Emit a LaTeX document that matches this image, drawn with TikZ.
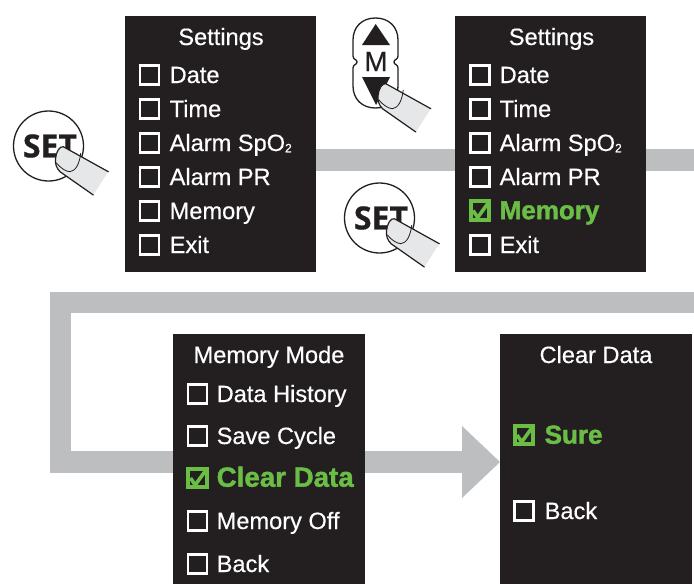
\documentclass[tikz,border=0pt]{standalone}
\usepackage{fontspec}
\setmainfont{Liberation Sans}
\newfontface\setlabelfont{Open Sans Bold}[FakeBold=0.6]
\newfontface\paneltextfont{Liberation Sans}[FakeBold=0.45]
\newfontface\panelboldfont{Liberation Sans Bold}[FakeBold=1.5]
\definecolor{panelblack}{HTML}{231F20}
\definecolor{bandgrey}{HTML}{BCBEC0}
\definecolor{okgreen}{HTML}{6ABD45}
\definecolor{fingergrey}{HTML}{E6E7E8}
\tikzset{
  panel/.style={fill=panelblack,draw=none,inner sep=0pt,anchor=north west},
  band/.style={draw=bandgrey,line width=21.5pt,line join=miter},
  paneltitle/.style={text=white,font=\paneltextfont\fontsize{23.6}{24}\selectfont,inner sep=0pt,anchor=base},
  itemtext/.style={text=white,font=\paneltextfont\fontsize{23.6}{24}\selectfont,inner sep=0pt,anchor=base west},
  greentext/.style={text=okgreen,inner sep=0pt,anchor=base west},
  tick/.style={draw=white,line width=2.8pt,fill=none,minimum size=19pt,inner sep=0pt},
  greentick/.style={draw=okgreen,line width=4.2pt,fill=none,minimum size=18.6pt,inner sep=0pt},
  fingerline/.style={draw=panelblack,line width=1.2pt,line cap=round,line join=round},
  keyline/.style={draw=panelblack,line width=1.3pt},
}
% name, box x, text x, y, text
\newcommand{\plainitem}[5]{%
  \node[tick] (#1box) at (#2,#4) {};
  \node[itemtext] (#1) at (#3-0.5,#4+8) {#5};}
\newcommand{\greenitem}[6][26]{%
  \node[greentick] (#2box) at (#3,#5) {};
  \draw[okgreen,line width=3.6pt] ([shift={(-7,0)}]#2box.center) -- ([shift={(-2.3,7)}]#2box.center) -- ([shift={(8.5,-8)}]#2box.center);
  \node[greentext,font=\panelboldfont\fontsize{#1}{#1}\selectfont] (#2) at (#4-0.5,#5+8.7) {#6};}
\newcommand{\fingeratorigin}[2]{%
  \begin{scope}[shift={(#1,#2)}]
    \fill[fingergrey] (14.8,0.7) -- (59.8,25.7) -- (44.8,49) -- (11.5,25.7) .. controls (8,22) and (6.5,18) .. (7,13) .. controls (7.5,6) and (11,0) .. (14.8,0.7) -- cycle;
    \draw[fingerline] (44.8,49) -- (11.5,25.7) .. controls (8,22) and (6.5,18) .. (7,13) .. controls (7.5,6) and (11,0) .. (14.8,0.7) -- (59.8,25.7);
    \draw[fingerline,line width=0.8pt] (8,17) .. controls (11,21) and (17,25.7) .. (21.5,25.7) .. controls (27,25) and (31,18) .. (32.2,7.3);
  \end{scope}}
\newcommand{\setkey}[3]{%
  \node[circle,draw=panelblack,line width=1.3pt,fill=white,minimum size=70pt,inner sep=0pt] (#1) at (#2,#3) {};
  \node[inner sep=0pt,text=panelblack,font=\setlabelfont\fontsize{32}{32}\selectfont] (#1label) at (#2+1.5,#3) {SET};
  \fingeratorigin{#2}{#3}}
\newcommand{\sptwo}{SpO\raisebox{-0.1ex}{\fontsize{12}{12}\selectfont 2}}
\begin{document}
\begin{tikzpicture}[x=1pt,y=-1pt]
\useasboundingbox (0,0) rectangle (694,584);
\fill[white] (0,0) rectangle (694,584);

% panels
\node[panel,minimum width=191pt,minimum height=256pt] (settingsA) at (125,16) {};
\node[panel,minimum width=191pt,minimum height=256pt] (settingsB) at (455,16) {};
\node[panel,minimum width=192pt,minimum height=250pt] (memorymode) at (173,334) {};
\node[panel,minimum width=192pt,minimum height=250pt] (cleardata) at (500,334) {};
\coordinate (exitright) at (694,160);
\coordinate (entryright) at (694,302.7);
\coordinate (cornerA) at (60.7,302.7);
\coordinate (cornerB) at (60.7,462);
\coordinate (headbase) at (462,462);

% grey bands behind the panels
\draw[band] (settingsA.east |- exitright) -- (settingsB.west |- exitright);
\draw[band] (settingsB.east |- exitright) -- (exitright);
\draw[band] (entryright) -- (cornerA) -- (cornerB) -- (memorymode.west |- cornerB);
\draw[band] (memorymode.east |- cornerB) -- (headbase);
\fill[bandgrey] (462,426) -- (500,462) -- (462,498) -- cycle;

% settings A
\node[paneltitle] (titleA) at (221,45) {Settings};
\plainitem{dateA}{149.5}{170}{75}{Date}
\plainitem{timeA}{149.5}{170}{109}{Time}
\plainitem{spoA}{149.5}{170}{143}{Alarm \sptwo}
\plainitem{prA}{149.5}{170}{177}{Alarm PR}
\plainitem{memA}{149.5}{170}{211}{Memory}
\plainitem{exitA}{149.5}{170}{245}{Exit}

% settings B
\node[paneltitle] (titleB) at (551.5,45) {Settings};
\plainitem{dateB}{480}{500}{75}{Date}
\plainitem{timeB}{480}{500}{109}{Time}
\plainitem{spoB}{480}{500}{143}{Alarm \sptwo}
\plainitem{prB}{480}{500}{177}{Alarm PR}
\greenitem{memB}{480}{500}{210.5}{Memory}
\plainitem{exitB}{480}{500}{245}{Exit}

% memory mode
\node[paneltitle] (titleC) at (269,363) {Memory Mode};
\plainitem{histC}{197.5}{217}{394}{Data History}
\plainitem{saveC}{197.5}{217}{436}{Save Cycle}
\greenitem[27.7]{clearC}{197.5}{217}{478}{Clear Data}
\plainitem{offC}{197.5}{217}{521}{Memory Off}
\plainitem{backC}{197.5}{217}{564}{Back}

% clear data
\node[paneltitle] (titleD) at (596,363) {Clear Data};
\greenitem{sureD}{524}{545}{435}{Sure}
\plainitem{backD}{524}{545}{511}{Back}

% keys
\setkey{setA}{48.5}{146}
\setkey{setB}{379.5}{218}

% M key
\draw[keyline,fill=white] (353,40) .. controls (353,27) and (362,18) .. (375.5,18) .. controls (389,18) and (398,27) .. (398,40) -- (398,56) .. controls (398,60) and (394,59) .. (394,62) .. controls (394,65) and (398,64) .. (398,68) -- (398,86) .. controls (398,99) and (389,108) .. (375.5,108) .. controls (362,108) and (353,99) .. (353,86) -- (353,68) .. controls (353,64) and (357,65) .. (357,62) .. controls (357,59) and (353,60) .. (353,56) -- cycle;
\fill[panelblack] (375.7,24) -- (390,45) -- (362,45) -- cycle;
\fill[panelblack] (362,77) -- (390,77) -- (376,105) -- cycle;
\node[inner sep=0pt,text=panelblack,font=\paneltextfont\fontsize{28}{28}\selectfont] (mlabel) at (376,61.5) {M};
\fingeratorigin{371}{83}
\end{tikzpicture}
\end{document}
